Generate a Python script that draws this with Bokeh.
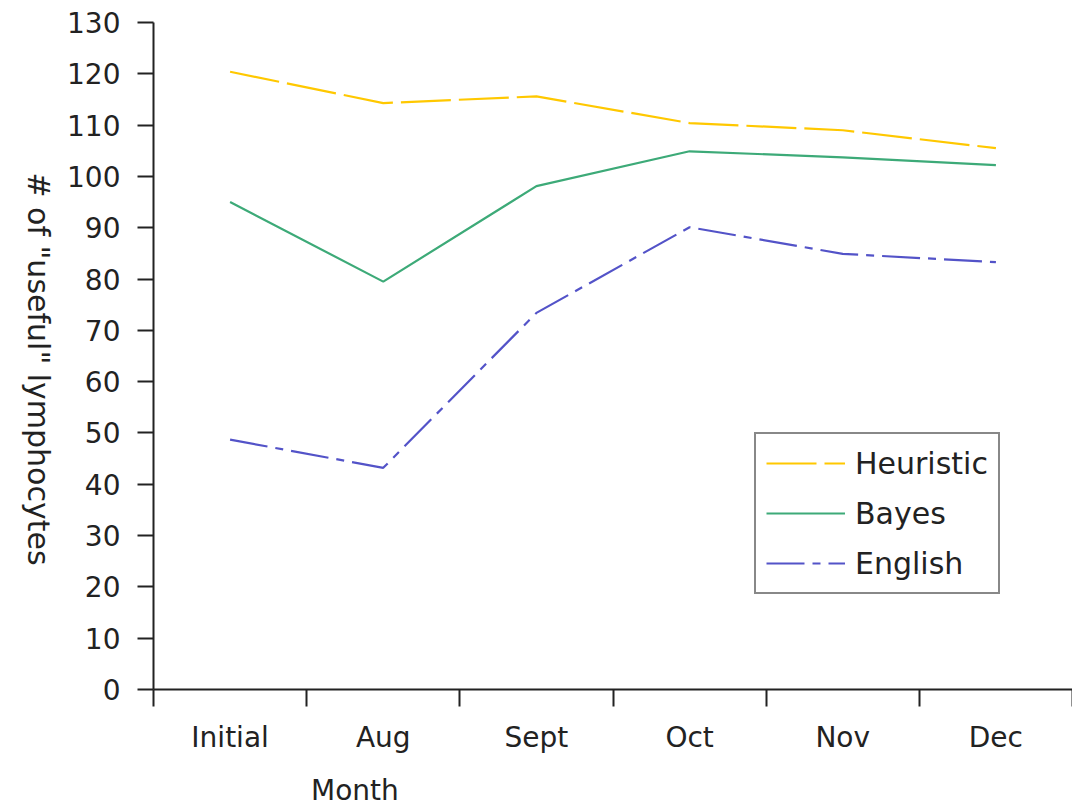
import math
from bokeh.plotting import figure
from bokeh.models import Range1d, FixedTicker, Legend
from bokeh.embed import file_html
from bokeh.resources import INLINE

# ---- data ----
months = ["Initial", "Aug", "Sept", "Oct", "Nov", "Dec"]
heuristic = [120.4, 114.3, 115.6, 110.4, 109.0, 105.5]
bayes = [95.0, 79.5, 98.1, 104.9, 103.7, 102.2]
english = [48.7, 43.2, 73.4, 90.1, 84.9, 83.3]
y_ticks = [0, 10, 20, 30, 40, 50, 60, 70, 80, 90, 100, 110, 120, 130]

FONT = "DejaVu Sans"
FS = "28px"
AX = "#222222"
NBSP = "\u00a0"

xpos = [i + 0.5 for i in range(len(months))]
bounds = [i for i in range(len(months) + 1)]

p = figure(width=1072, height=809, output_backend="svg", toolbar_location=None,
           x_range=Range1d(0, len(months)), y_range=Range1d(0, 130),
           min_border_left=153, min_border_right=0, min_border_top=22,
           min_border_bottom=119)
p.outline_line_color = None
p.xgrid.visible = False
p.ygrid.visible = False
p.background_fill_color = "white"
p.border_fill_color = "white"

# x axis: category labels at centres, tick marks at boundaries
xa = p.xaxis[0]
xa.ticker = FixedTicker(ticks=xpos, minor_ticks=bounds)
xa.major_label_overrides = {x: m for x, m in zip(xpos, months)}
xa.major_tick_out = 0
xa.major_tick_in = 0
xa.minor_tick_out = 17
xa.minor_tick_in = 0
xa.minor_tick_line_color = AX
xa.minor_tick_line_width = 2
xa.axis_line_color = AX
xa.axis_line_width = 2
xa.major_label_standoff = 14
xa.major_label_text_font = FONT
xa.major_label_text_font_size = FS
xa.major_label_text_color = AX
# "Month" sits left of centre: trailing no-break spaces shift it
xa.axis_label = "Month" + NBSP * 58
xa.axis_label_text_font = FONT
xa.axis_label_text_font_size = FS
xa.axis_label_text_font_style = "normal"
xa.axis_label_text_color = AX
xa.axis_label_standoff = 17

ya = p.yaxis[0]
ya.ticker = FixedTicker(ticks=y_ticks, minor_ticks=[])
ya.major_tick_out = 16
ya.major_tick_in = 0
ya.major_tick_line_color = AX
ya.major_tick_line_width = 2
ya.axis_line_color = AX
ya.axis_line_width = 2
ya.major_label_standoff = 17
ya.major_label_text_font = FONT
ya.major_label_text_font_size = FS
ya.major_label_text_color = AX
# label reads top-to-bottom; trailing no-break spaces lift it off the axis end
ya.axis_label = '# of "useful" lymphocytes' + NBSP * 13
ya.axis_label_text_font = FONT
ya.axis_label_text_font_size = "30px"
ya.axis_label_text_font_style = "normal"
ya.axis_label_text_color = AX
ya.axis_label_standoff = 26
try:
    ya.axis_label_orientation = -math.pi / 2
    ya.axis_label_align = "start"
except Exception:
    pass

r1 = p.line(xpos, heuristic, line_color="#FFC800", line_width=2.2, line_dash="50 8")
r2 = p.line(xpos, bayes, line_color="#3DAA78", line_width=2.2)
r3 = p.line(xpos, english, line_color="#5353C8", line_width=2.2, line_dash="38 8 8 8")

legend = Legend(items=[("Heuristic", [r1]), ("Bayes", [r2]), ("English", [r3])],
                location=(601, 95), glyph_width=79, glyph_height=38,
                label_height=38, spacing=12, padding=10, label_standoff=10,
                label_text_font=FONT, label_text_font_size="30px",
                label_text_color=AX, border_line_color="#111111",
                border_line_width=2.5, margin=0, background_fill_alpha=1)
p.add_layout(legend)

open("out.html", "w").write(file_html(p, INLINE))
